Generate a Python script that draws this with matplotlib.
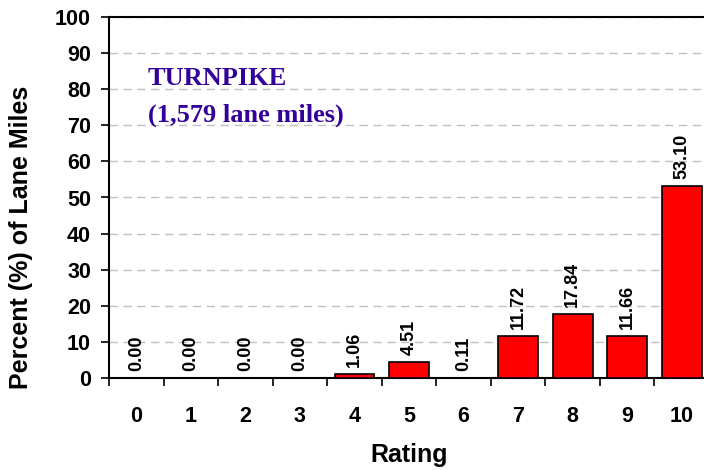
import matplotlib
matplotlib.use('Agg')
import matplotlib.pyplot as plt
import numpy as np

# 데이터
ratings = ['0', '1', '2', '3', '4', '5', '6', '7', '8', '9', '10']
percent = [0.00, 0.00, 0.00, 0.00, 1.06, 4.51, 0.11, 11.72, 17.84, 11.66, 53.10]
title_lines = ['TURNPIKE', '(1,579 lane miles)']

plt.rcParams['font.family'] = ['Liberation Sans', 'DejaVu Sans']

fig = plt.figure(figsize=(7.04, 4.70), dpi=100)
ax = fig.add_axes([109 / 704, 92 / 470, 600 / 704, 361 / 470])

x = np.arange(len(ratings))
bars = ax.bar(x, percent, width=0.73, color='#ff0000', edgecolor='black', linewidth=1.2, zorder=3)

# 막대 위 값 표시
for xi, v in zip(x, percent):
    ax.annotate(f'{v:.2f}', xy=(xi, v), xytext=(0, 5), textcoords='offset points',
                ha='center', va='bottom', rotation=90, fontsize=13, fontweight='bold', zorder=4)

ax.set_xlim(-0.5, len(ratings) - 0.5)
ax.set_ylim(0, 100)
ax.set_yticks(np.arange(0, 101, 10))
ax.yaxis.grid(True, linestyle=(0, (6, 4)), color='#c0c0c0', linewidth=1, zorder=0)
ax.set_axisbelow(True)

# x축: 경계에 눈금, 가운데에 라벨
ax.set_xticks(np.arange(-0.5, len(ratings), 1))
ax.set_xticklabels([])
ax.tick_params(axis='x', which='major', length=6, width=1.2, direction='out')
ax.set_xticks(x, minor=True)
ax.set_xticklabels(ratings, minor=True, fontsize=15.5, fontweight='bold')
ax.tick_params(axis='x', which='minor', length=0, pad=20)

ax.tick_params(axis='y', length=6, width=1.2, pad=7, labelsize=15.5)
for lbl in ax.get_yticklabels():
    lbl.set_fontweight('bold')

for s in ax.spines.values():
    s.set_linewidth(1.5)

ax.set_xlabel('Rating', fontsize=18, fontweight='bold')
ax.xaxis.set_label_coords(0.5, -0.18)
ax.set_ylabel('Percent (%) of Lane Miles', fontsize=18, fontweight='bold')
ax.yaxis.set_label_coords(-0.126, 0.39)

ax.text(0.065, 81.2, title_lines[0], transform=ax.get_yaxis_transform(), fontsize=19,
        fontweight='bold', family='Liberation Serif', color='#330099', va='baseline')
ax.text(0.065, 71.0, title_lines[1], transform=ax.get_yaxis_transform(), fontsize=19,
        fontweight='bold', family='Liberation Serif', color='#330099', va='baseline')

plt.savefig('out.png', dpi=100)
plt.close()
